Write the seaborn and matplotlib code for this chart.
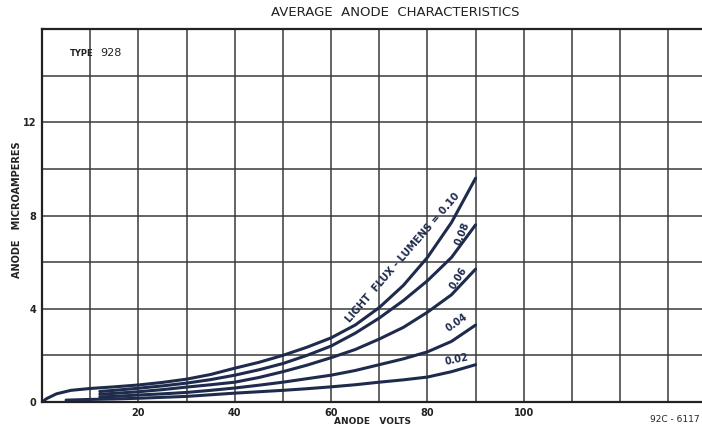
import numpy as np
import pandas as pd
import matplotlib
matplotlib.use("Agg")
import matplotlib.pyplot as plt
import seaborn as sns

# ---- data ----
v_010 = [0, 1, 3, 6, 10, 15, 20, 25, 30, 35, 40, 45, 50, 55, 60, 65, 70, 75, 80, 85, 90]
i_010 = [0, 0.15, 0.35, 0.5, 0.58, 0.65, 0.73, 0.84, 0.98, 1.18, 1.45, 1.7, 2.0, 2.35, 2.75, 3.3, 4.05, 5.0, 6.2, 7.7, 9.6]

v_mid = [12, 15, 20, 25, 30, 35, 40, 45, 50, 55, 60, 65, 70, 75, 80, 85, 90]
i_008 = [0.45, 0.5, 0.59, 0.69, 0.81, 0.96, 1.15, 1.38, 1.65, 2.0, 2.4, 2.95, 3.6, 4.35, 5.2, 6.2, 7.6]
i_006 = [0.33, 0.37, 0.44, 0.53, 0.64, 0.74, 0.85, 1.05, 1.3, 1.58, 1.9, 2.25, 2.7, 3.2, 3.85, 4.6, 5.7]
i_004 = [0.22, 0.24, 0.3, 0.35, 0.41, 0.5, 0.6, 0.72, 0.85, 1.0, 1.15, 1.35, 1.6, 1.85, 2.15, 2.6, 3.3]

v_002 = [5, 10, 15, 20, 25, 30, 35, 40, 45, 50, 55, 60, 65, 70, 75, 80, 85, 90]
i_002 = [0.08, 0.11, 0.13, 0.16, 0.2, 0.24, 0.31, 0.38, 0.44, 0.5, 0.57, 0.65, 0.74, 0.85, 0.95, 1.07, 1.3, 1.6]

flux_labels = ["0.10", "0.08", "0.06", "0.04", "0.02"]
x_tick_labels = [20, 40, 60, 80, 100]
y_tick_labels = [0, 4, 8, 12]

frames = []
for lab, vs, iis in [("0.10", v_010, i_010), ("0.08", v_mid, i_008), ("0.06", v_mid, i_006),
                     ("0.04", v_mid, i_004), ("0.02", v_002, i_002)]:
    frames.append(pd.DataFrame({"volts": vs, "microamps": iis, "flux": lab}))
df = pd.concat(frames, ignore_index=True)

sns.set_style("white")
plt.rcParams["font.family"] = ["DejaVu Sans"]

ink = "#1f2b4d"
grid_c = "#3a3a3a"
txt = "#222222"

fig = plt.figure(figsize=(7.02, 4.29), dpi=100)
ax = fig.add_axes([42 / 702, 27 / 429, (702 - 42) / 702, (402 - 29) / 429])

sns.lineplot(data=df, x="volts", y="microamps", hue="flux", hue_order=flux_labels,
             palette=[ink] * 5, linewidth=2.2, legend=False, ax=ax, sort=False)

ax.set_xlim(0, 137)
ax.set_ylim(0, 16)
ax.set_xticks(np.arange(0, 140, 10))
ax.set_yticks(np.arange(0, 17, 2))
ax.set_xticklabels([str(t) if t in x_tick_labels else "" for t in range(0, 140, 10)])
ax.set_yticklabels([str(t) if t in y_tick_labels else "" for t in range(0, 17, 2)])
ax.tick_params(length=0, labelsize=7, colors=txt, pad=4)
for lbl in ax.get_xticklabels() + ax.get_yticklabels():
    lbl.set_fontweight("bold")
ax.grid(True, color=grid_c, linewidth=1.1)
for s in ["left", "bottom", "top"]:
    ax.spines[s].set_color(txt)
    ax.spines[s].set_linewidth(1.6)
ax.spines["right"].set_visible(False)
ax.set_xlabel("")
ax.set_ylabel("")

fig.text(395 / 702, 1 - 13 / 429, "AVERAGE  ANODE  CHARACTERISTICS", ha="center", va="center",
         fontsize=9.5, color=txt)
fig.text(372 / 702, 1 - 421 / 429, "ANODE   VOLTS", ha="center", va="center",
         fontsize=6.5, fontweight="bold", color=txt)
fig.text(17 / 702, 1 - 210 / 429, "ANODE   MICROAMPERES", ha="center", va="center",
         rotation=90, fontsize=7, fontweight="bold", color=txt)
fig.text(675 / 702, 1 - 419 / 429, "92C - 6117", ha="center", va="center",
         fontsize=6.5, color=txt)
ax.text(0.042, 0.935, "TYPE", transform=ax.transAxes, ha="left", va="center",
        fontsize=6, fontweight="bold", color=txt)
ax.text(0.088, 0.935, "928", transform=ax.transAxes, ha="left", va="center",
        fontsize=8, color=txt)

# curve labels
ax.text(75.0, 6.2, "LIGHT  FLUX - LUMENS = 0.10", rotation=49, ha="center", va="center",
        fontsize=7.3, fontweight="bold", color=ink)
ax.text(87.3, 7.2, "0.08", rotation=68, ha="center", va="center", fontsize=7,
        fontweight="bold", color=ink)
ax.text(86.5, 5.3, "0.06", rotation=58, ha="center", va="center", fontsize=7,
        fontweight="bold", color=ink)
ax.text(86.0, 3.4, "0.04", rotation=35, ha="center", va="center", fontsize=7,
        fontweight="bold", color=ink)
ax.text(86.0, 1.8, "0.02", rotation=12, ha="center", va="center", fontsize=7,
        fontweight="bold", color=ink)

fig.savefig("out.png", dpi=100, facecolor="white")
